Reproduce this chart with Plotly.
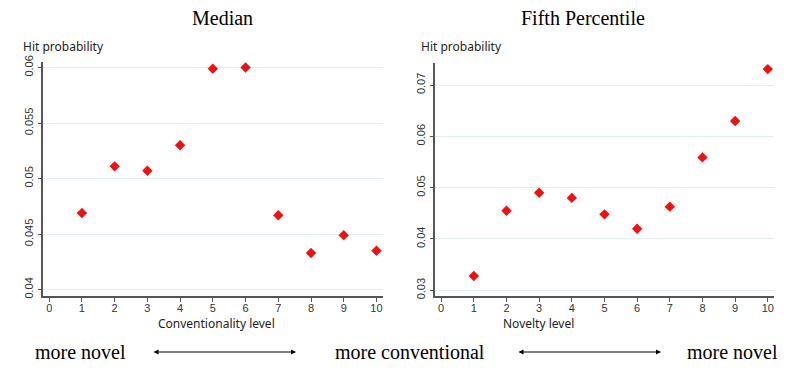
import plotly.graph_objects as go

levels = [1, 2, 3, 4, 5, 6, 7, 8, 9, 10]
median_hit = [0.0469, 0.0511, 0.0507, 0.0530, 0.0599, 0.0600, 0.0467, 0.0433, 0.0449, 0.0435]
fifth_hit = [0.0328, 0.0455, 0.0490, 0.0480, 0.0448, 0.0420, 0.0463, 0.0559, 0.0630, 0.0731]

x_ticks = [0, 1, 2, 3, 4, 5, 6, 7, 8, 9, 10]
left_yticks = [0.04, 0.045, 0.05, 0.055, 0.06]
left_ytext = ["0.04", "0.045", "0.05", "0.055", "0.06"]
right_yticks = [0.03, 0.04, 0.05, 0.06, 0.07]
right_ytext = ["0.03", "0.04", "0.05", "0.06", "0.07"]

# page body has an 8px margin, so the figure starts at (8, 8) in the window
OFF = 8
W, H = 800 - OFF, 378 - OFF
def px(x):
    return (x - OFF) / W
def py(y):
    return 1 - (y - OFF) / H

fig = go.Figure()
marker = dict(symbol="diamond", color="#ee1111", size=8, line=dict(width=0))
fig.add_trace(go.Scatter(x=levels, y=median_hit, mode="markers", marker=marker,
                         xaxis="x", yaxis="y", showlegend=False))
fig.add_trace(go.Scatter(x=levels, y=fifth_hit, mode="markers", marker=marker,
                         xaxis="x2", yaxis="y2", showlegend=False))

tickfont = dict(family="Liberation Sans Narrow, Liberation Sans, Arial, sans-serif",
                size=11, color="#333333")
axis_common = dict(showline=True, linecolor="#555555", linewidth=1.5, ticks="outside",
                   ticklen=4, tickcolor="#555555", tickwidth=1.2, tickfont=tickfont,
                   zeroline=False, automargin=False)

fig.update_layout(
    width=W, height=H,
    margin=dict(l=0, r=0, t=0, b=0, autoexpand=False),
    paper_bgcolor="white", plot_bgcolor="white",
    xaxis=dict(domain=[px(43.3), px(383)], range=[-0.18, 10.2], tickvals=x_ticks,
               showgrid=False, anchor="y", ticklabelstandoff=-3, **axis_common),
    yaxis=dict(domain=[py(296), py(62)], range=[0.03942, 0.0605], tickvals=left_yticks,
               ticktext=left_ytext, tickangle=-90, showgrid=True, gridcolor="#e2eeee",
               gridwidth=1, anchor="x", **axis_common),
    xaxis2=dict(domain=[px(435.3), px(774)], range=[-0.18, 10.19], tickvals=x_ticks,
                showgrid=False, anchor="y2", ticklabelstandoff=-3, **axis_common),
    yaxis2=dict(domain=[py(296), py(63.3)], range=[0.02889, 0.07423], tickvals=right_yticks,
                ticktext=right_ytext, tickangle=-90, showgrid=True, gridcolor="#e2eeee",
                gridwidth=1, anchor="x2", **axis_common),
)

serif = "Liberation Serif, Times New Roman, serif"
sans = "Noto Sans, Open Sans, sans-serif"
ann = []
def txt(text, x, y, size, family, xanchor="center", color="#000000"):
    ann.append(dict(text=text, x=px(x), y=py(y), xref="paper", yref="paper",
                    xanchor=xanchor, yanchor="middle", showarrow=False,
                    font=dict(family=family, size=size, color=color)))

txt("Median", 222, 18, 20, serif)
txt("Fifth Percentile", 583, 18, 20, serif)
txt("Hit probability", 21, 46, 12, sans, xanchor="left", color="#222222")
txt("Hit probability", 419, 46, 12, sans, xanchor="left", color="#222222")
txt("Conventionality level", 216, 323, 12, sans, color="#222222")
txt("Novelty level", 538, 323, 12, sans, color="#222222")
txt("more novel", 80, 352, 20, serif)
txt("more conventional", 410, 352, 20, serif)
txt("more novel", 732, 352, 20, serif)

for (x0, x1) in [(152, 296), (517, 661)]:
    ann.append(dict(x=px(x1), y=py(352), xref="paper", yref="paper",
                    ax=-(x1 - x0), ay=0, axref="pixel", ayref="pixel",
                    text="", showarrow=True, arrowhead=2, startarrowhead=2,
                    arrowside="end+start", arrowsize=1, arrowwidth=1, arrowcolor="#000000"))

fig.update_layout(annotations=ann)
fig.write_html("out.html")
